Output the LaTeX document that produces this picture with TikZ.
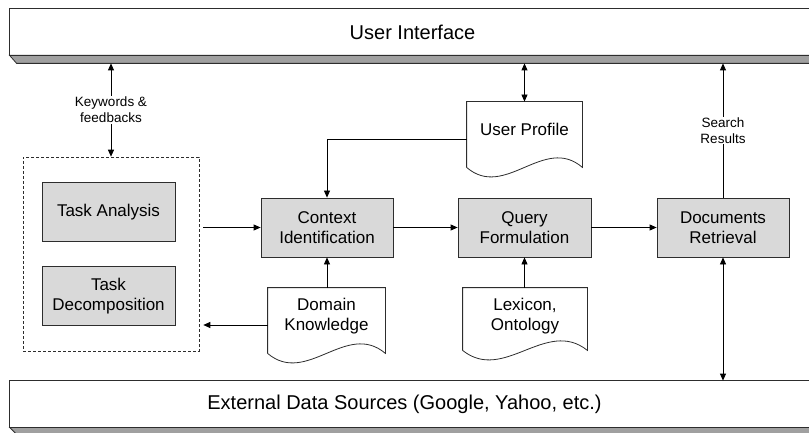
\documentclass[tikz,border=0pt]{standalone}
\usepackage{fontspec}
\setmainfont{Liberation Sans}
\usetikzlibrary{arrows.meta,calc}
\definecolor{boxfill}{RGB}{217,217,217}
\definecolor{bevel}{RGB}{160,160,160}
\definecolor{edge}{RGB}{45,45,45}
\newcommand\docoutline[2]{\draw[draw=edge,fill=white] (#1.south west) -- (#1.north west) -- (#1.north east) -- (#1.south east) .. controls +(-#2,-33) and +(#2,33) .. (#1.south west);}
\begin{document}
\begin{tikzpicture}[x=1pt,y=-1pt, line width=0.8pt,
  >={Triangle[length=7pt,width=6pt]},
  procbox/.style={draw=edge, fill=boxfill, minimum width=133pt, minimum height=59pt, inner sep=0pt, align=center, font=\fontsize{17}{20}\selectfont},
  bar/.style={minimum width=805pt, inner sep=0pt, font=\fontsize{20}{24}\selectfont},
  docnode/.style={inner sep=0pt, align=center, font=\fontsize{17}{20}\selectfont},
  lbl/.style={fill=white, align=center, font=\fontsize{13.5}{16}\selectfont, inner sep=1pt},
  conn/.style={draw=black, ->}]
\useasboundingbox (0,0) rectangle (809,433);
\clip (0,0) rectangle (809,433);
% bars
\node[bar, minimum height=54pt] (ui) at (412.5,36) {};
\draw[draw=edge, fill=white] (ui.north west) rectangle ($(ui.south east)+(0,-8)$);
\draw[draw=edge, fill=bevel] ($(ui.south west)+(0,-8)$) -- ($(ui.south west)+(7,0)$) -- (ui.south east) -- ($(ui.south east)+(0,-8)$) -- cycle;
\node[font=\fontsize{20}{24}\selectfont] (uit) at (412.5,32) {User Interface};
\node[bar, minimum height=52pt] (ext) at (412.5,407) {};
\draw[draw=edge, fill=white] (ext.north west) rectangle ($(ext.south east)+(0,-6)$);
\draw[draw=edge, fill=bevel] ($(ext.south west)+(0,-6)$) -- ($(ext.south west)+(6,0)$) -- (ext.south east) -- ($(ext.south east)+(0,-6)$) -- cycle;
\node[font=\fontsize{20}{24}\selectfont] (extt) at (404.5,404) {External Data Sources (Google, Yahoo, etc.)};
% dashed group
\node[draw=edge, line width=0.6pt, dash pattern=on 3pt off 2pt, minimum width=176pt, minimum height=194pt, inner sep=0pt] (grp) at (111,254) {};
\node[procbox] (ta) at (108.5,212) {Task Analysis};
\node[procbox] (td) at (108.5,296) {Task\\Decomposition};
% process boxes
\node[procbox, minimum width=132pt] (ci) at (327,227.5) {Context\\Identification};
\node[procbox] (qf) at (524.5,227.5) {Query\\Formulation};
\node[procbox, minimum width=132pt] (dr) at (723,227.5) {Documents\\Retrieval};
% documents
\node[docnode, minimum width=115pt, minimum height=65pt] (up) at (524.5,134.5) {};
\docoutline{up}{38.3}
\node[docnode] (upt) at (524.5,129) {User Profile};
\node[docnode, minimum width=117pt, minimum height=65pt] (dk) at (326.5,320.5) {};
\docoutline{dk}{39}
\node[docnode] (dkt) at (326.5,316) {Domain\\Knowledge};
\node[docnode, minimum width=124pt, minimum height=62pt] (lx) at (525,319) {};
\docoutline{lx}{41.3}
\node[docnode] (lxt) at (525,316) {Lexicon,\\Ontology};
% connectors
\draw[conn, <->] (ui.south -| grp.north) -- (grp.north) node[lbl, pos=0.5] (kw) {Keywords \&\\feedbacks};
\draw[conn, <->] (ui.south -| up.north) -- (up.north);
\draw[conn] ($(up.west)+(0,4.5)$) -| (ci.north);
\draw[conn] ($(grp.east |- ci.west)+(4,0)$) -- (ci.west);
\draw[conn] ($(dk.west)+(0,4.5)$) -- ($(grp.east |- dk.west)+(4,4.5)$);
\draw[conn] (ci.south |- dk.north) -- (ci.south);
\draw[conn] (ci.east) -- (qf.west);
\draw[conn] (qf.east) -- (dr.west);
\draw[conn] (qf.south |- lx.north) -- (qf.south);
\draw[conn] (dr.north) -- (dr.north |- ui.south) node[lbl, pos=0.5] (sr) {Search\\Results};
\draw[conn, <->] (dr.south) -- (dr.south |- ext.north);
\end{tikzpicture}
\end{document}
